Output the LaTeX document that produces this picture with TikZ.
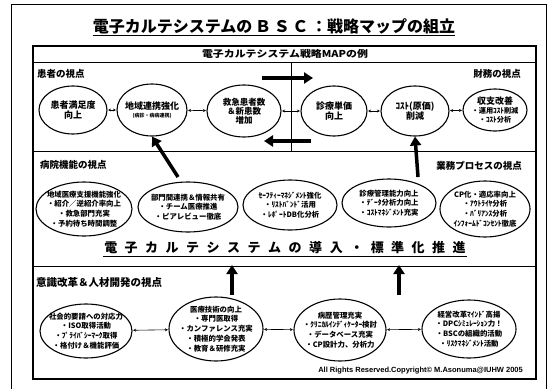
\documentclass[tikz,border=0pt]{standalone}
\usepackage{fontspec}
\usepackage{graphicx}
\setmainfont{Liberation Sans}
\newfontfamily\jp{Noto Sans CJK JP}
\usetikzlibrary{shapes.geometric,arrows.meta}
\tikzset{
  ell/.style={ellipse, draw, line width=1.1pt, inner xsep=-28pt, inner ysep=-15pt, align=center},
  big/.style={font=\jp\bfseries\fontsize{9}{10.5}\selectfont},
  small/.style={font=\jp\bfseries\fontsize{7.4}{9.8}\selectfont},
  lnk/.style={{Stealth[length=3pt,width=3pt]}-{Stealth[length=3pt,width=3pt]}, line width=0.6pt, shorten <=0.5pt, shorten >=0.5pt},
  fat/.style={line width=3.5pt, -{Triangle[length=9pt,width=11pt]}},
  sect/.style={font=\jp\bfseries\fontsize{9.5}{10}\selectfont, inner sep=0pt},
}
\begin{document}
\begin{tikzpicture}[x=1pt,y=-1pt]
\useasboundingbox (0,0) rectangle (548,388);
% outer frame
\draw[line width=0.9pt] (11,392) -- (11,4) -- (546,4) -- (546,392);
% title
\node[inner sep=0pt] (title) at (274,26) {\jp\bfseries\fontsize{16}{16}\selectfont 電子カルテシステムの\,Ｂ\,Ｓ\,Ｃ\,：戦略マップの組立};
\draw[line width=1pt] ([yshift=-2pt]title.south west) -- ([yshift=-2pt]title.south east);
% inner frame
\draw[line width=1.2pt] (33,46) rectangle (536,379);
\node[inner sep=0pt] (hdr) at (285,54) {\jp\bfseries\fontsize{9.5}{10}\selectfont\scalebox{1.15}[1]{電子カルテシステム戦略MAPの例}};
\draw[line width=1pt] (33,62) -- (536,62);
\draw[line width=0.9pt] (33,151) -- (536,151);
\draw[line width=0.9pt] (291,62) -- (291,151);
\draw[line width=0.9pt] (33,266) -- (536,266);
% section labels
\node[sect, anchor=west] (s1) at (37,74) {患者の視点};
\node[sect, anchor=east] (s2) at (521,74) {財務の視点};
\node[sect, anchor=west] (s3) at (40,165) {病院機能の視点};
\node[sect, anchor=east] (s4) at (522,166) {業務プロセスの視点};
\node[sect, anchor=west, font=\jp\bfseries\fontsize{10.5}{11}\selectfont] (s5) at (36,283) {意識改革＆人材開発の視点};
% top row
\node[ell, big, minimum width=68pt, minimum height=48pt] (c1) at (73,110) {患者満足度\\向上};
\node[ell, big, minimum width=70pt, minimum height=52pt] (c2) at (152,110) {地域連携強化\\[-2pt]{\fontsize{5}{6}\selectfont (病診・病病連携)}};
\node[ell, big, minimum width=74pt, minimum height=52pt, font=\jp\bfseries\fontsize{8.5}{9}\selectfont] (c3) at (244,111) {救急患者数\\＆新患数\\増加};
\node[ell, big, minimum width=66pt, minimum height=50pt] (c4) at (334,111) {診療単価\\向上};
\node[ell, big, minimum width=68pt, minimum height=50pt] (c5) at (415,111) {ｺｽﾄ(原価)\\削減};
\node[ell, small, minimum width=64pt, minimum height=42pt, font=\jp\bfseries\fontsize{7.2}{9}\selectfont] (c6) at (495,110) {{\fontsize{9}{9.5}\selectfont 収支改善}\\・運用ｺｽﾄ削減\\・ｺｽﾄ分析};
\draw[lnk] (c1) -- (c2);
\draw[lnk] (c2) -- (c3);
\draw[lnk] (c3) -- (c4);
\draw[lnk] (c4) -- (c5);
\draw[lnk] (c5) -- (c6);
% big horizontal arrows
\coordinate (ra1) at (262,78);
\coordinate (ra2) at (313,78);
\coordinate (la1) at (311,141);
\coordinate (la2) at (264,141);
\draw[fat] (ra1) -- (ra2);
\draw[fat] (la1) -- (la2);
% middle row
\node[ell, small, minimum width=96pt, minimum height=54pt] (m1) at (84,209) {地域医療支援機能強化\\・紹介／逆紹介率向上\\・救急部門充実\\・予約待ち時間調整};
\node[ell, small, minimum width=100pt, minimum height=50pt] (m2) at (188,207) {部門間連携＆情報共有\\・チーム医療推進\\・ピアレビュー徹底};
\node[ell, small, minimum width=94pt, minimum height=50pt] (m3) at (290,205) {ｾｰﾌﾃｨｰﾏﾈｼﾞﾒﾝﾄ強化\\・ﾘｽﾄﾊﾞﾝﾄﾞ活用\\・ﾚﾎﾟｰﾄDB化分析};
\node[ell, small, minimum width=94pt, minimum height=48pt] (m4) at (389,203) {診療管理能力向上\\・ﾃﾞｰﾀ分析力向上\\・ｺｽﾄﾏﾈｼﾞﾒﾝﾄ充実};
\node[ell, small, minimum width=90pt, minimum height=56pt] (m5) at (485,209) {CP化・適応率向上\\・ｱｳﾄﾗｲﾔ分析\\・ﾊﾞﾘｱﾝｽ分析\\ｲﾝﾌｫｰﾑﾄﾞｺﾝｾﾝﾄ徹底};
% up arrows to top row
\coordinate (ua1) at (178,177);
\coordinate (ua2) at (418,177);
\draw[fat] (ua1) -- (c2.south);
\draw[fat] (ua2) -- (c5.south);
% banner
\node[inner sep=1pt] (banner) at (285,248) {\jp\bfseries\fontsize{13}{13}\selectfont 電\hspace{7.5pt}子\hspace{7.5pt}カ\hspace{7.5pt}ル\hspace{7.5pt}テ\hspace{7.5pt}シ\hspace{7.5pt}ス\hspace{7.5pt}テ\hspace{7.5pt}ム\hspace{7.5pt}の\hspace{7.5pt}導\hspace{7.5pt}入\hspace{7.5pt}・\hspace{7.5pt}標\hspace{7.5pt}準\hspace{7.5pt}化\hspace{7.5pt}推\hspace{7.5pt}進};
\draw[line width=0.8pt] ([yshift=-1pt]banner.south west) -- ([yshift=-1pt]banner.south east);
% bottom row
\node[ell, small, minimum width=92pt, minimum height=54pt] (b1) at (86,331) {社会的要請への対応力\\・ISO取得活動\\・ﾌﾟﾗｲﾊﾞｼｰﾏｰｸ取得\\・格付け＆機能評価};
\node[ell, small, minimum width=94pt, minimum height=64pt] (b2) at (216,329) {医療技術の向上\\・専門医取得\\・カンファレンス充実\\・積極的学会発表\\・教育＆研修充実};
\node[ell, small, minimum width=92pt, minimum height=62pt] (b3) at (340,330) {病歴管理充実\\・ｸﾘﾆｶﾙｲﾝﾃﾞｨｹｰﾀｰ検討\\・データベース充実\\・CP設計力、分析力};
\node[ell, small, minimum width=94pt, minimum height=58pt] (b4) at (469,329) {経営改革ﾏｲﾝﾄﾞ高揚\\・DPCｼﾐｭﾚｰｼｮﾝ力！\\・BSCの組織的活動\\・ﾘｽｸﾏﾈｼﾞﾒﾝﾄ活動};
\draw[lnk] (b1) -- (b2);
\draw[lnk] (b2) -- (b3);
\draw[lnk] (b3) -- (b4);
% up arrows to banner
\coordinate (ub1) at (232,295);
\coordinate (ub1t) at (232,265);
\coordinate (ub2) at (399,295);
\coordinate (ub2t) at (399,265);
\draw[fat] (ub1) -- (ub1t);
\draw[fat] (ub2) -- (ub2t);
% footer
\node[anchor=east, inner sep=0pt, font=\bfseries\fontsize{7.5}{8}\selectfont] (foot) at (523,371) {All Rights Reserved.Copyright© M.Asonuma@IUHW 2005};
\end{tikzpicture}
\end{document}
